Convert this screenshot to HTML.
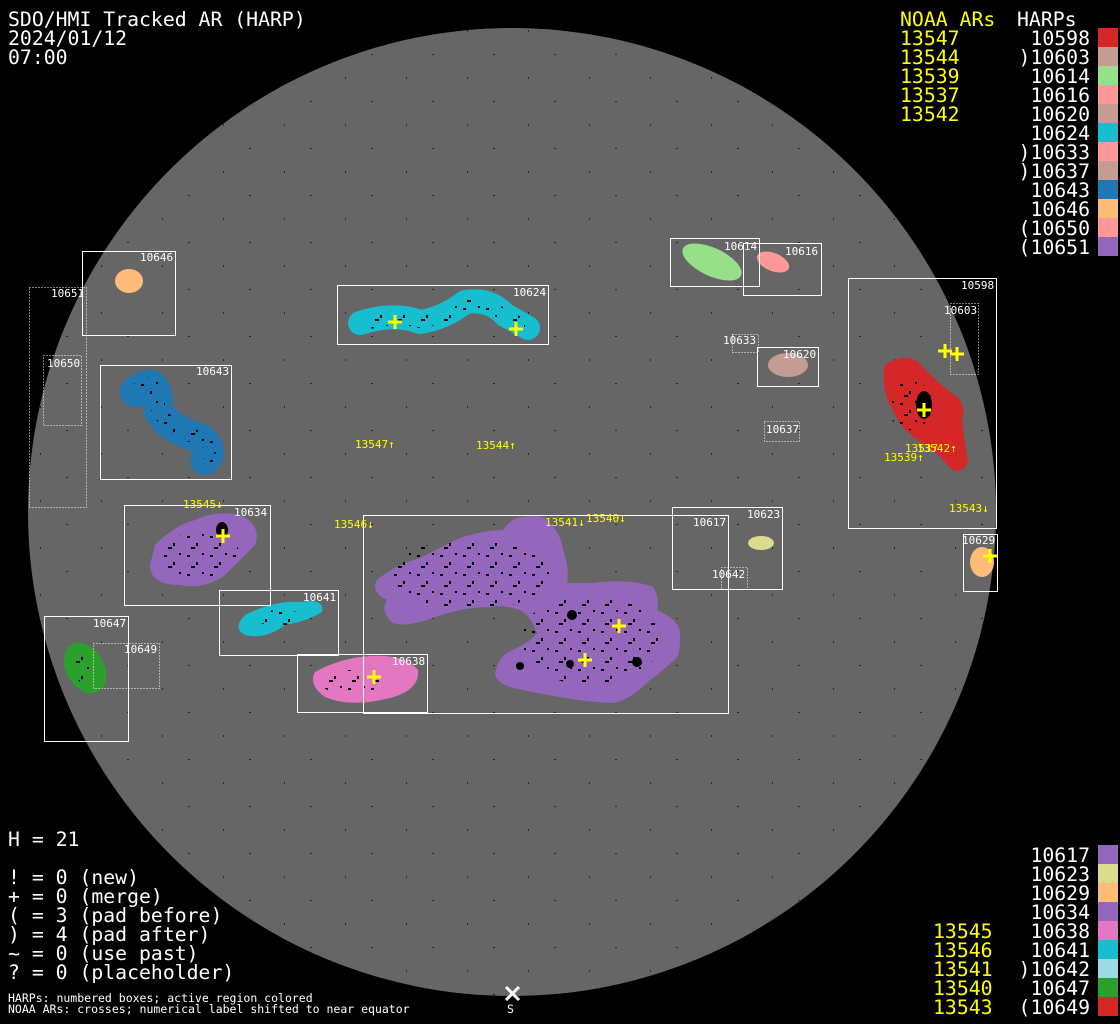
<!DOCTYPE html>
<html><head><meta charset="utf-8"><style>
html,body{margin:0;padding:0;background:#000;width:1120px;height:1024px;overflow:hidden}
svg{display:block}
text{font-family:"DejaVu Sans Mono","Liberation Mono",monospace}
</style></head><body>
<svg width="1120" height="1024" viewBox="0 0 1120 1024" xmlns="http://www.w3.org/2000/svg">
<defs>
<pattern id="spk" width="23" height="19" patternUnits="userSpaceOnUse">
<rect x="3" y="4" width="3" height="2" fill="#000"/><rect x="12" y="11" width="2" height="3" fill="#000"/><rect x="18" y="2" width="2" height="2" fill="#000"/><rect x="7" y="15" width="4" height="2" fill="#000"/>
</pattern>
<pattern id="bg" width="61" height="47" patternUnits="userSpaceOnUse">
<rect x="5" y="7" width="2" height="1" fill="#000"/><rect x="40" y="30" width="1" height="2" fill="#000"/>
</pattern>
</defs>
<rect width="1120" height="1024" fill="#000"/>
<circle cx="512" cy="512" r="484" fill="#666"/>
<circle cx="512" cy="512" r="484" fill="url(#bg)" opacity="0.6"/>

<g>
<ellipse cx="129" cy="281" rx="14" ry="12" fill="#ffbb78"/>
<path d="M135,392 Q158,372 158,408 Q165,428 200,438 Q215,450 205,460" stroke="#1f77b4" stroke-width="30" fill="none" stroke-linecap="round" stroke-linejoin="round"/>
<path d="M360,323 Q395,312 420,322 Q445,318 465,302 Q490,298 505,315 Q520,323 528,328" stroke="#17becf" stroke-width="24" fill="none" stroke-linecap="round" stroke-linejoin="round"/>
<ellipse cx="712" cy="262" rx="32" ry="14" transform="rotate(25 712 262)" fill="#98df8a"/>
<ellipse cx="773" cy="262" rx="17" ry="9" transform="rotate(22 773 262)" fill="#ff9896"/>
<ellipse cx="788" cy="365" rx="20" ry="12" fill="#c49c94"/>
<path d="M885,365 Q905,352 918,362 Q935,380 950,392 Q968,402 962,420 Q965,445 968,462 Q962,476 950,468 Q940,455 925,445 Q900,430 893,410 Q880,390 885,365 Z" fill="#d62728"/>
<ellipse cx="982" cy="562" rx="12" ry="15" fill="#ffbb78"/>
<ellipse cx="761" cy="543" rx="13" ry="7" fill="#dbdb8d"/>
<path d="M155,545 Q175,525 195,520 Q215,510 240,515 Q262,525 255,545 Q240,560 225,575 Q205,590 180,585 Q150,585 150,565 Z" fill="#9467bd"/>
<path d="M245,615 Q275,600 300,602 Q325,598 322,612 Q305,622 285,625 Q265,640 245,635 Q232,628 245,615 Z" fill="#17becf"/>
<ellipse cx="85" cy="668" rx="19" ry="27" transform="rotate(-30 85 668)" fill="#2ca02c"/>
<path d="M315,672 Q340,658 370,656 Q405,654 418,670 Q420,690 390,698 Q350,708 325,697 Q308,685 315,672 Z" fill="#e377c2"/>
<path d="M377,580 Q395,565 420,558 Q445,545 460,538 Q485,530 503,530 Q512,517 523,517 Q540,514 547,520 Q562,535 563,550 Q570,570 567,583 Q580,583 593,583 Q630,578 653,587 Q660,598 657,610 Q683,622 680,637 Q680,652 677,657 Q662,672 650,680 Q630,700 613,703 Q585,702 560,697 Q530,692 510,687 Q490,680 497,667 Q500,655 513,650 Q530,642 537,633 Q530,615 520,610 Q505,605 493,607 Q475,607 460,610 Q440,615 427,620 Q405,627 393,623 Q380,612 387,600 Q370,592 377,580 Z" fill="#9467bd"/>
</g>
<g fill="url(#spk)">
<path d="M135,392 Q158,372 158,408 Q165,428 200,438 Q215,450 205,460" stroke="url(#spk)" stroke-width="14" fill="none"/>
<path d="M370,323 Q395,316 420,322 Q445,318 465,306 Q490,305 505,315 Q520,323 525,326" stroke="url(#spk)" stroke-width="12" fill="none"/>
<ellipse cx="910" cy="405" rx="22" ry="25"/>
<ellipse cx="200" cy="555" rx="40" ry="22"/>
<ellipse cx="350" cy="682" rx="30" ry="12"/>
<ellipse cx="470" cy="575" rx="80" ry="35"/>
<ellipse cx="590" cy="640" rx="70" ry="45"/>
<ellipse cx="280" cy="618" rx="25" ry="8"/>
<ellipse cx="85" cy="668" rx="10" ry="16"/>
</g>
<g fill="#000"><ellipse cx="222" cy="530" rx="6" ry="8"/><ellipse cx="924" cy="405" rx="8" ry="14"/><circle cx="572" cy="615" r="5"/><circle cx="570" cy="664" r="4"/><circle cx="520" cy="666" r="4"/><circle cx="637" cy="662" r="5"/></g>

<g fill="none" stroke="#fff" stroke-width="1">
<rect x="82.5" y="251.5" width="93" height="84"/>
<rect x="100.5" y="365.5" width="131" height="114"/>
<rect x="337.5" y="285.5" width="211" height="59"/>
<rect x="670.5" y="238.5" width="89" height="48"/>
<rect x="743.5" y="243.5" width="78" height="52"/>
<rect x="757.5" y="347.5" width="61" height="39"/>
<rect x="848.5" y="278.5" width="148" height="250"/>
<rect x="963.5" y="534.5" width="34" height="57"/>
<rect x="672.5" y="507.5" width="110" height="82"/>
<rect x="124.5" y="505.5" width="146" height="100"/>
<rect x="219.5" y="590.5" width="119" height="65"/>
<rect x="44.5" y="616.5" width="84" height="125"/>
<rect x="297.5" y="654.5" width="130" height="58"/>
<rect x="363.5" y="515.5" width="365" height="198"/>
</g>
<g fill="none" stroke="#fff" stroke-width="1" stroke-dasharray="1,2">
<rect x="29.5" y="287.5" width="57" height="220"/>
<rect x="43.5" y="355.5" width="38" height="70"/>
<rect x="732.5" y="334.5" width="26" height="18"/>
<rect x="764.5" y="421.5" width="35" height="20"/>
<rect x="950.5" y="303.5" width="28" height="71"/>
<rect x="721.5" y="567.5" width="26" height="22"/>
<rect x="93.5" y="643.5" width="66" height="45"/>
</g>
<g fill="#fff" font-size="11">
<text x="140" y="261">10646</text><text x="51" y="297">10651</text><text x="47" y="367">10650</text>
<text x="196" y="375">10643</text><text x="513" y="296">10624</text><text x="724" y="250">10614</text>
<text x="785" y="255">10616</text><text x="723" y="344">10633</text><text x="783" y="358">10620</text>
<text x="766" y="433">10637</text><text x="961" y="289">10598</text><text x="944" y="314">10603</text>
<text x="962" y="544">10629</text><text x="747" y="518">10623</text><text x="693" y="526">10617</text>
<text x="712" y="578">10642</text><text x="234" y="516">10634</text><text x="303" y="601">10641</text>
<text x="93" y="627">10647</text><text x="124" y="653">10649</text><text x="392" y="665">10638</text>
</g>
<g stroke="#ff0" stroke-width="3">
<path d="M388,322h14M395,315v14"/><path d="M509,329h14M516,322v14"/>
<path d="M938,351h14M945,344v14"/><path d="M950,354h14M957,347v14"/><path d="M917,410h14M924,403v14"/>
<path d="M983,556h14M990,549v14"/><path d="M216,536h14M223,529v14"/>
<path d="M367,677h14M374,670v14"/><path d="M612,626h14M619,619v14"/><path d="M578,660h14M585,653v14"/>
</g>
<g fill="#ff0" font-size="11">
<text x="355" y="448">13547↑</text><text x="476" y="449">13544↑</text><text x="183" y="508">13545↓</text>
<text x="334" y="528">13546↓</text><text x="545" y="526">13541↓</text><text x="586" y="522">13540↓</text>
<text x="884" y="461">13539↑</text><text x="905" y="452">13537</text><text x="917" y="452">13542↑</text>
<text x="949" y="512">13543↓</text>
</g>

<g fill="#fff" font-size="19.8">
<text x="8" y="26">SDO/HMI Tracked AR (HARP)</text>
<text x="8" y="45">2024/01/12</text>
<text x="8" y="64">07:00</text>
<text x="1017" y="26">HARPs</text>
</g>
<g fill="#ff0" font-size="19.8">
<text x="900" y="26">NOAA ARs</text>
<text x="900" y="45">13547</text><text x="900" y="64">13544</text><text x="900" y="83">13539</text>
<text x="900" y="102">13537</text><text x="900" y="121">13542</text>
</g>
<g fill="#fff" font-size="19.8" text-anchor="end">
<text x="1090" y="45">10598</text><text x="1090" y="64">)10603</text><text x="1090" y="83">10614</text>
<text x="1090" y="102">10616</text><text x="1090" y="121">10620</text><text x="1090" y="140">10624</text>
<text x="1090" y="159">)10633</text><text x="1090" y="178">)10637</text><text x="1090" y="197">10643</text>
<text x="1090" y="216">10646</text><text x="1090" y="235">(10650</text><text x="1090" y="254">(10651</text>
</g>
<g>
<rect x="1098" y="28" width="20" height="19" fill="#d62728"/><rect x="1098" y="47" width="20" height="19" fill="#c49c94"/>
<rect x="1098" y="66" width="20" height="19" fill="#98df8a"/><rect x="1098" y="85" width="20" height="19" fill="#ff9896"/>
<rect x="1098" y="104" width="20" height="19" fill="#c49c94"/><rect x="1098" y="123" width="20" height="19" fill="#17becf"/>
<rect x="1098" y="142" width="20" height="19" fill="#ff9896"/><rect x="1098" y="161" width="20" height="19" fill="#c49c94"/>
<rect x="1098" y="180" width="20" height="19" fill="#1f77b4"/><rect x="1098" y="199" width="20" height="19" fill="#ffbb78"/>
<rect x="1098" y="218" width="20" height="19" fill="#ff9896"/><rect x="1098" y="237" width="20" height="19" fill="#9467bd"/>
</g>
<g fill="#fff" font-size="19.8" text-anchor="end">
<text x="1090" y="862">10617</text><text x="1090" y="881">10623</text><text x="1090" y="900">10629</text>
<text x="1090" y="919">10634</text><text x="1090" y="938">10638</text><text x="1090" y="957">10641</text>
<text x="1090" y="976">)10642</text><text x="1090" y="995">10647</text><text x="1090" y="1014">(10649</text>
</g>
<g fill="#ff0" font-size="19.8">
<text x="933" y="938">13545</text><text x="933" y="957">13546</text><text x="933" y="976">13541</text>
<text x="933" y="995">13540</text><text x="933" y="1014">13543</text>
</g>
<g>
<rect x="1098" y="845" width="20" height="19" fill="#9467bd"/><rect x="1098" y="864" width="20" height="19" fill="#dbdb8d"/>
<rect x="1098" y="883" width="20" height="19" fill="#ffbb78"/><rect x="1098" y="902" width="20" height="19" fill="#9467bd"/>
<rect x="1098" y="921" width="20" height="19" fill="#e377c2"/><rect x="1098" y="940" width="20" height="19" fill="#17becf"/>
<rect x="1098" y="959" width="20" height="19" fill="#9edae5"/><rect x="1098" y="978" width="20" height="19" fill="#2ca02c"/>
<rect x="1098" y="997" width="20" height="19" fill="#d62728"/>
</g>
<g fill="#fff" font-size="19.8">
<text x="8" y="846">H = 21</text>
<text x="8" y="884">! = 0 (new)</text>
<text x="8" y="903">+ = 0 (merge)</text>
<text x="8" y="922">( = 3 (pad before)</text>
<text x="8" y="941">) = 4 (pad after)</text>
<text x="8" y="960">~ = 0 (use past)</text>
<text x="8" y="979">? = 0 (placeholder)</text>
</g>
<g fill="#fff" font-size="11.5">
<text x="8" y="1002">HARPs: numbered boxes; active region colored</text>
<text x="8" y="1013">NOAA ARs: crosses; numerical label shifted to near equator</text>
<text x="507" y="1013">S</text>
</g>
<path d="M506,987l13,13M519,987l-13,13" stroke="#fff" stroke-width="3"/>
</svg>
</body></html>
